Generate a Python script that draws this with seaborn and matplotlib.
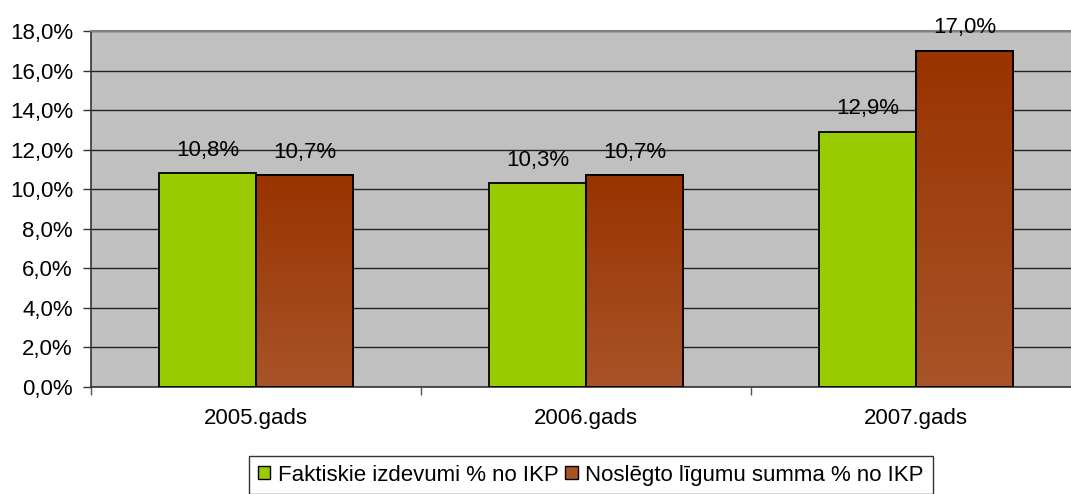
import numpy as np
import pandas as pd
import matplotlib
matplotlib.use("Agg")
import matplotlib.pyplot as plt
import seaborn as sns
from matplotlib.ticker import FuncFormatter, FixedLocator
from matplotlib.colors import LinearSegmentedColormap
from matplotlib.patches import Patch

years = ["2005.gads", "2006.gads", "2007.gads"]
series = ["Faktiskie izdevumi % no IKP", "Noslēgto līgumu summa % no IKP"]
actual = [10.8, 10.3, 12.9]
contracts = [10.7, 10.7, 17.0]

df = pd.DataFrame({
    "year": years * 2,
    "series": [series[0]] * 3 + [series[1]] * 3,
    "value": actual + contracts,
})

sns.set_style("white")
plt.rcParams["font.family"] = ["Liberation Sans", "DejaVu Sans"]
plt.rcParams["text.color"] = "black"
plt.rcParams["xtick.labelcolor"] = "black"
plt.rcParams["ytick.labelcolor"] = "black"
fs = 16

fig = plt.figure(figsize=(10.71, 4.94), dpi=100)
# plot area runs off the right edge of the picture, as in the original
ax = fig.add_axes([91 / 1071, 1 - 387 / 494, 990 / 1071, 356 / 494])
ax.set_facecolor("#c0c0c0")

sns.barplot(data=df, x="year", y="value", hue="series", order=years,
            hue_order=series, palette=["#99cc00", "#a0441c"], width=0.588,
            edgecolor="black", linewidth=1.3, saturation=1, ax=ax, zorder=3)

# vertical gradient on the brown bars
grad = np.linspace(0, 1, 256).reshape(-1, 1)
cmap = LinearSegmentedColormap.from_list("br", ["#a85428", "#993300"])
for p in ax.patches[3:6]:
    x0, y0 = p.get_x(), p.get_y()
    w, h = p.get_width(), p.get_height()
    im = ax.imshow(grad, extent=[x0, x0 + w, y0, y0 + h], origin="lower",
                   cmap=cmap, aspect="auto", zorder=3.5)
    im.set_clip_path(p)
    ax.add_patch(plt.Rectangle((x0, y0), w, h, fill=False, edgecolor="black",
                               linewidth=1.3, zorder=4))

for p in ax.patches[:6]:
    v = p.get_height()
    ax.annotate(f"{v:.1f}%".replace(".", ","), (p.get_x() + p.get_width() / 2, v),
                xytext=(0, 9), textcoords="offset points", ha="center",
                va="bottom", fontsize=fs, color="black", zorder=5)

ax.set_xlim(-0.5, 2.5)
ax.set_ylim(0, 18)
ax.set_yticks(np.arange(0, 18.1, 2))
ax.yaxis.set_major_formatter(FuncFormatter(lambda v, _: f"{v:.1f}%".replace(".", ",")))
ax.yaxis.grid(True, color="#222222", linewidth=1.0, zorder=1)
ax.set_axisbelow(True)
ax.set_xlabel("")
ax.set_ylabel("")
ax.tick_params(axis="y", labelsize=fs, length=6, width=1, pad=7,
               direction="out", left=True, color="#333333", labelcolor="black")
ax.tick_params(axis="x", labelsize=fs, length=0, pad=15, labelcolor="black")
ax.xaxis.set_minor_locator(FixedLocator([-0.5, 0.5, 1.5, 2.5]))
ax.tick_params(axis="x", which="minor", length=6, width=1, direction="out",
               bottom=True, color="#555555")

for s in ["left", "bottom"]:
    ax.spines[s].set_color("#333333")
    ax.spines[s].set_linewidth(1.2)
ax.spines["top"].set_color("#808080")
ax.spines["top"].set_linewidth(1.5)
ax.spines["right"].set_visible(False)

ax.get_legend().remove()
handles = [Patch(facecolor="#99cc00", edgecolor="black"),
           Patch(facecolor="#a85428", edgecolor="black")]
leg = fig.legend(handles, series, loc="center", bbox_to_anchor=(591 / 1071, 1 - 475 / 494),
                 ncol=2, frameon=True, fancybox=False, fontsize=fs,
                 handlelength=0.55, handleheight=0.55, handletextpad=0.35,
                 columnspacing=0.3, borderpad=0.4, borderaxespad=0,
                 edgecolor="black")
leg.get_frame().set_linewidth(1.0)
for t in leg.get_texts():
    t.set_color("black")

fig.savefig("out.png", dpi=100)
